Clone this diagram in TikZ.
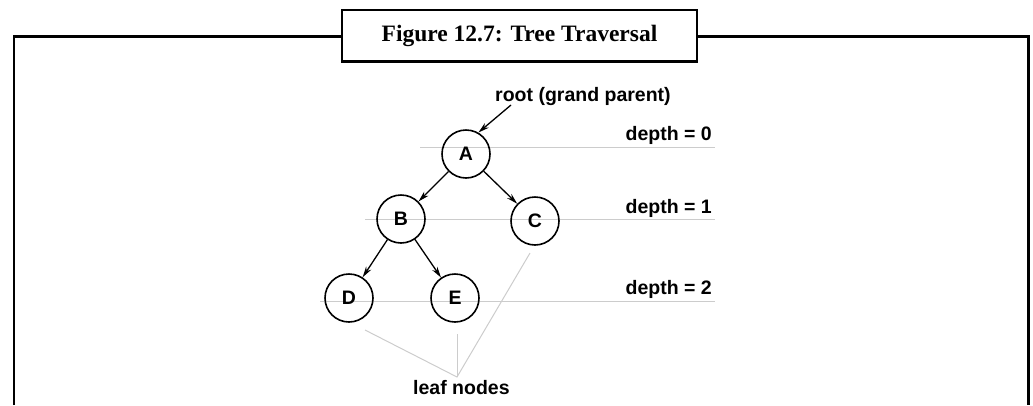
\documentclass[tikz,border=0pt]{standalone}
\usepackage{fontspec}
\newfontfamily\arialb{Liberation Sans}[BoldFont={Liberation Sans Bold}]
\newfontfamily\titlefont{Liberation Serif Bold}
\usetikzlibrary{arrows.meta}
\tikzset{
  treenode/.style={circle, draw, line width=1.6pt, minimum size=48pt, inner sep=0pt, font=\arialb\bfseries\fontsize{19.5}{22}\selectfont},
  lbl/.style={inner sep=0pt, font=\arialb\bfseries\fontsize{19.5}{22}\selectfont},
  edge/.style={line width=1.3pt, -{Stealth[length=11pt,width=6pt]}},
  guide/.style={line width=1pt, draw=black!20},
  frame/.style={line width=2.3pt},
}
\begin{document}
\begin{tikzpicture}[x=1pt,y=-1pt]
\useasboundingbox (0,0) rectangle (1033,405);
% outer frame
\draw[frame] (14,405) -- (14,36.5) -- (1028.5,36.5) -- (1028.5,405);
\node[frame, draw, fill=white, minimum width=355pt, minimum height=51.5pt, inner sep=0pt,
      font=\titlefont\fontsize{23.5}{26}\selectfont] (title) at (519.5,35.8) {Figure 12.7: Tree Traversal};
% depth guide lines
\coordinate (g0a) at (420,147); \coordinate (g0b) at (715,147);
\coordinate (g1a) at (365,219); \coordinate (g1b) at (715,219);
\coordinate (g2a) at (320,301.5); \coordinate (g2b) at (715,301.5);
\draw[guide] (g0a) -- (g0b);
\draw[guide] (g1a) -- (g1b);
\draw[guide] (g2a) -- (g2b);
% nodes
\node[treenode] (A) at (466,154) {A};
\node[treenode] (B) at (401,219) {B};
\node[treenode] (C) at (535,221) {C};
\node[treenode] (D) at (349,298) {D};
\node[treenode] (E) at (455,298) {E};
% labels
\node[lbl, anchor=base west] (root) at (495,101) {root (grand parent)};
\node[lbl, anchor=base east] (d0) at (712,140) {depth = 0};
\node[lbl, anchor=base east] (d1) at (712,213) {depth = 1};
\node[lbl, anchor=base east] (d2) at (712,294) {depth = 2};
\node[lbl, anchor=base west] (leaf) at (413,394) {leaf nodes};
% edges
\coordinate (rs) at (511,105);
\draw[edge] (rs) -- (A.60);
\draw[edge] (A) -- (B);
\draw[edge] (A) -- (C);
\draw[edge] (B) -- (D);
\draw[edge] (B) -- (E);
% leaf pointers
\coordinate (lf) at (457,377);
\coordinate (lD) at (365,330);
\coordinate (lE) at (457,334);
\coordinate (lC) at (530,253);
\draw[guide] (lD) -- (lf) -- (lC);
\draw[guide] (lE) -- (lf);
\end{tikzpicture}
\end{document}
